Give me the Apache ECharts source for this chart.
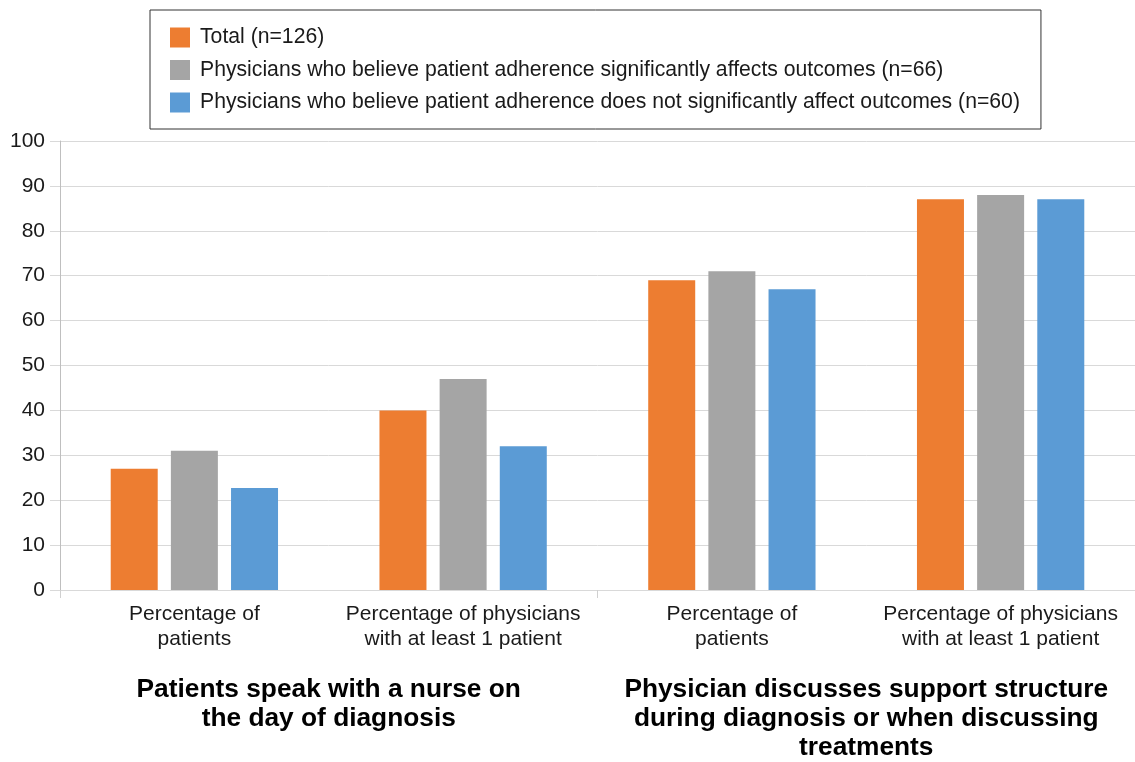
<!DOCTYPE html>
<html>
<head>
<meta charset="utf-8">
<script src="https://cdn.jsdelivr.net/npm/echarts@6/dist/echarts.min.js"></script>
<style>
html,body{margin:0;padding:0;background:#fff;}
#chart{width:1135px;height:762px;}
</style>
</head>
<body>
<div id="chart"></div>
<script>
const categories = [
  "Percentage of\npatients",
  "Percentage of physicians\nwith at least 1 patient",
  "Percentage of\npatients",
  "Percentage of physicians\nwith at least 1 patient"
];
const groups = [
  "Patients speak with a nurse on\nthe day of diagnosis",
  "Physician discusses support structure\nduring diagnosis or when discussing\ntreatments"
];
const seriesNames = [
  "Total (n=126)",
  "Physicians who believe patient adherence significantly affects outcomes (n=66)",
  "Physicians who believe patient adherence does not significantly affect outcomes (n=60)"
];
const totalValues = [27, 40, 69, 87];
const significantValues = [31, 47, 71, 88];
const notSignificantValues = [22.7, 32, 67, 87];
const colors = ["#ED7D31", "#A5A5A5", "#5B9BD5"];

const font = "Liberation Sans, Arial, Helvetica, sans-serif";
const chart = echarts.init(document.getElementById('chart'), null, {renderer: 'canvas'});
const values = [totalValues, significantValues, notSignificantValues];

chart.setOption({
  animation: false,
  textStyle: {fontFamily: font},
  legend: {
    orient: 'vertical',
    left: 150,
    top: 10,
    padding: [17, 21, 16, 20],
    itemWidth: 20,
    itemHeight: 20,
    itemGap: 11.5,
    borderColor: '#333',
    borderWidth: 1,
    icon: 'rect',
    textStyle: {fontSize: 21.2, color: '#1a1a1a', fontFamily: font, padding: [0, 0, 0, 5]},
    data: seriesNames
  },
  grid: {left: 60, right: 0, top: 141, bottom: 171, containLabel: false},
  xAxis: [
    {
      type: 'category',
      data: categories,
      axisLine: {show: true, lineStyle: {color: '#d9d9d9', width: 1}},
      axisTick: {show: false},
      axisLabel: {fontSize: 21, color: '#1a1a1a', lineHeight: 25, margin: 12, interval: 0, fontFamily: font}
    },
    {
      type: 'category',
      position: 'bottom',
      data: groups,
      axisLine: {show: false},
      axisTick: {show: true, length: 8, lineStyle: {color: '#d0d0d0'}},
      axisLabel: {fontSize: 26.3, fontWeight: 'bold', color: '#000', lineHeight: 29, margin: 85, interval: 0, fontFamily: font},
      splitLine: {show: false}
    }
  ],
  yAxis: {
    type: 'value',
    min: 0,
    max: 100,
    interval: 10,
    axisLine: {show: true, lineStyle: {color: '#bfbfbf'}},
    axisTick: {show: true, length: 10, lineStyle: {color: '#d9d9d9'}},
    axisLabel: {fontSize: 21, color: '#1a1a1a', margin: 15, fontFamily: font},
    splitLine: {show: true, lineStyle: {color: '#d9d9d9', width: 1}}
  },
  series: seriesNames.map((name, i) => ({
    name: name,
    type: 'bar',
    xAxisIndex: 0,
    data: values[i],
    barWidth: 47,
    barGap: '28%',
    itemStyle: {color: colors[i]}
  }))
});
</script>
</body>
</html>
